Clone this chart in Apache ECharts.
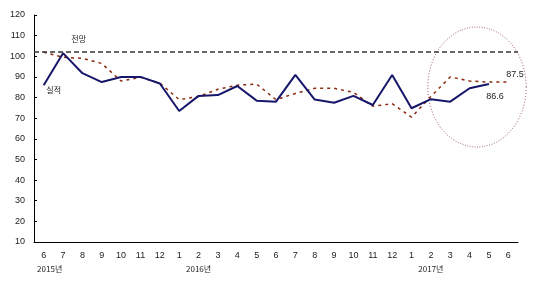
<!DOCTYPE html>
<html><head><meta charset="utf-8">
<script src="https://cdn.jsdelivr.net/npm/echarts@6/dist/echarts.min.js"></script>
<style>html,body{margin:0;padding:0;background:#fff}#c{width:537px;height:283px}</style>
</head><body><div id="c"></div>
<script>
const months = ['6','7','8','9','10','11','12','1','2','3','4','5','6','7','8','9','10','11','12','1','2','3','4','5','6'];
const yearMarks = [[0,'2015년'],[8,'2016년'],[20,'2017년']];
const actual = [86, 101.5, 91.8, 87.5, 90, 90, 86.8, 73.5, 80.8, 81.2, 85.6, 78.5, 78, 91, 79, 77.5, 80.8, 76.4, 90.9, 74.8, 79.2, 78, 84.5, 86.6, null];
const forecast = [102, 99.5, 99, 96.5, 88, 89.8, 87, 79, 80.5, 84, 86, 86.5, 79, 82, 84.5, 84.5, 82.5, 75.8, 77, 70.5, 80.5, 90, 88, 87.5, 87.5];
const outlook = 102;
const yTicks = {min: 10, max: 120, step: 10};

const font = '"Liberation Sans", Arial, sans-serif';
const kfont = '"Noto Sans CJK KR", sans-serif';
const yearMap = {};
yearMarks.forEach(([i, t]) => yearMap[i] = t);

const lastA = actual.reduce((k, v, i) => v != null ? i : k, 0);
const lastF = forecast.length - 1;

const chart = echarts.init(document.getElementById('c'), null, {renderer: 'canvas'});
chart.setOption({
  animation: false,
  backgroundColor: '#fff',
  grid: {left: 34, right: 19, top: 15, bottom: 41},
  xAxis: {
    type: 'category', data: months, boundaryGap: true,
    axisLine: {lineStyle: {color: '#000', width: 1}},
    axisTick: {inside: true, length: 3, lineStyle: {color: '#000'}},
    axisLabel: {
      interval: 0, margin: 7, color: '#222', fontSize: 9, fontFamily: font,
      lineHeight: 13,
      formatter: (v, i) => yearMap[i] ? (v + '\n{' + (i === 0 ? 'y0' : 'y') + '|' + yearMap[i] + '}') : v,
      rich: {
        y: {fontSize: 8, fontFamily: kfont, color: '#222', lineHeight: 13},
        y0: {fontSize: 8, fontFamily: kfont, color: '#222', lineHeight: 13, padding: [0, 0, 0, 12]}
      }
    },
    splitLine: {show: false}
  },
  yAxis: {
    type: 'value', min: yTicks.min, max: yTicks.max, interval: yTicks.step,
    axisLine: {show: true, lineStyle: {color: '#000', width: 1}},
    axisTick: {show: true, inside: true, length: 3, lineStyle: {color: '#000'}},
    axisLabel: {color: '#222', fontSize: 9, fontFamily: font, margin: 9},
    splitLine: {show: false}
  },
  series: [
    {
      name: '전망', type: 'line', data: forecast.map((v, i) => {
        if (i === 0) return {value: v, label: {show: true, formatter: '전망', position: 'top', offset: [35, -4], fontFamily: kfont, fontSize: 8, color: '#222'}};
        if (i === lastF) return {value: v, label: {show: true, formatter: String(v), position: 'right', offset: [-7, -8], fontFamily: font, fontSize: 9, color: '#222'}};
        return v;
      }),
      symbol: 'circle', symbolSize: 0, showSymbol: true, z: 2,
      lineStyle: {color: '#8b2a10', width: 1.5, type: [3, 4]},
      markLine: {
        silent: true, symbol: 'none', label: {show: false},
        lineStyle: {color: '#333', width: 1.6, type: [5, 3]},
        data: [{yAxis: outlook}]
      }
    },
    {
      name: '실적', type: 'line', data: actual.map((v, i) => {
        if (i === 0) return {value: v, label: {show: true, formatter: '실적', position: 'bottom', offset: [10, -4], fontFamily: kfont, fontSize: 8, color: '#222'}};
        if (i === lastA) return {value: v, label: {show: true, formatter: String(v), position: 'bottom', offset: [6, 3], fontFamily: font, fontSize: 9, color: '#222'}};
        return v;
      }),
      symbol: 'circle', symbolSize: 0, showSymbol: true, z: 3,
      lineStyle: {color: '#16166a', width: 2}
    }
  ],
  graphic: [{
    type: 'circle', x: 477, y: 87, scaleX: 0.82,
    shape: {cx: 0, cy: 0, r: 60},
    style: {fill: 'none', stroke: '#8b3a3a', lineWidth: 1, lineDash: [1, 2]},
    silent: true, z: 1
  }]
});
</script>
</body></html>
